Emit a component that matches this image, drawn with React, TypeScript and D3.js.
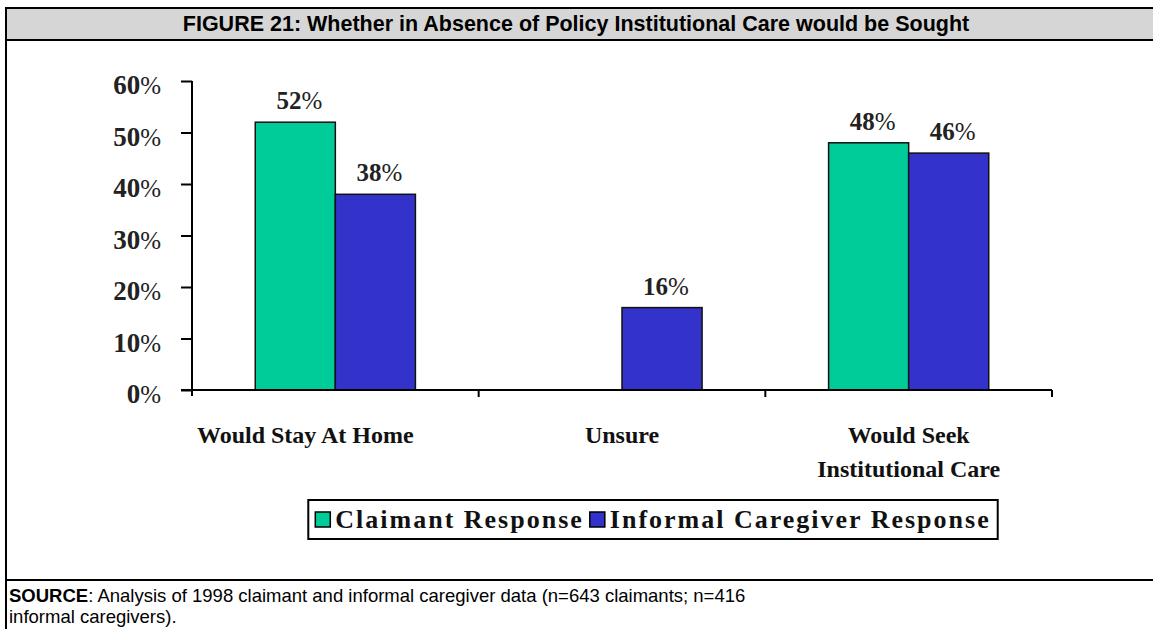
import React, { useEffect, useRef } from "react";
import * as d3 from "d3";

const categories = ["Would Stay At Home", "Unsure", "Would Seek Institutional Care"];
const categoryLines = [["Would Stay At Home"], ["Unsure"], ["Would Seek", "Institutional Care"]];
const seriesNames = ["Claimant Response", "Informal Caregiver Response"];
const claimantValues: (number | null)[] = [52, null, 48];
const caregiverValues: (number | null)[] = [38, 16, 46];
const yTicks = [0, 10, 20, 30, 40, 50, 60];
const seriesColors = ["#00cc99", "#3333cc"];

const titleText = "FIGURE 21: Whether in Absence of Policy Institutional Care would be Sought";
const sourceLine1 = ":  Analysis of 1998 claimant and informal caregiver data (n=643 claimants; n=416";
const sourceLine2 = "informal caregivers).";

const W = 1153;
const H = 629;
const serif = "'Liberation Serif', 'Times New Roman', serif";
const sans = "'Liberation Sans', Arial, sans-serif";

const BarChart = () => {
  const ref = useRef<SVGSVGElement>(null);

  useEffect(() => {
    draw();
  }, []);

  const draw = () => {
    const svg = d3.select(ref.current);
    svg.selectAll("*").remove();

    // frame + title bar
    svg.append("rect").attr("x", 0).attr("y", 0).attr("width", W).attr("height", H).attr("fill", "#fff");
    svg
      .append("rect")
      .attr("x", 6)
      .attr("y", 8)
      .attr("width", W + 10)
      .attr("height", 32)
      .attr("fill", "#d6d6d6")
      .attr("stroke", "#000")
      .attr("stroke-width", 2);
    svg.append("line").attr("x1", 6).attr("x2", 6).attr("y1", 8).attr("y2", H).attr("stroke", "#000").attr("stroke-width", 2);
    svg.append("line").attr("x1", 6).attr("x2", W).attr("y1", 580).attr("y2", 580).attr("stroke", "#000").attr("stroke-width", 2);

    svg
      .append("text")
      .attr("x", 576)
      .attr("y", 31)
      .attr("text-anchor", "middle")
      .attr("font-family", sans)
      .attr("font-weight", "bold")
      .attr("font-size", 21.5)
      .text(titleText);

    // footer
    const src = svg.append("text").attr("x", 9).attr("y", 602).attr("font-family", sans).attr("font-size", 18.5);
    src.append("tspan").attr("font-weight", "bold").text("SOURCE");
    src.append("tspan").text(sourceLine1);
    svg.append("text").attr("x", 9).attr("y", 623).attr("font-family", sans).attr("font-size", 18.5).text(sourceLine2);

    // plot
    const left = 192;
    const right = 1052;
    const top = 81;
    const bottom = 390;

    const x0 = d3.scaleBand().domain(categories).range([left, right]).paddingInner(0).paddingOuter(0);
    const x1 = d3.scaleBand().domain(seriesNames).range([0, x0.bandwidth()]).paddingInner(0).paddingOuter(0.79);
    const y = d3.scaleLinear().domain([0, 60]).range([bottom, top]);

    const g = svg.append("g");

    const series = [claimantValues, caregiverValues];
    series.forEach((vals, si) => {
      const rows = categories.map((c, i) => ({ c, v: vals[i] })).filter((d) => d.v !== null) as { c: string; v: number }[];
      g.selectAll(`rect.s${si}`)
        .data(rows)
        .enter()
        .append("rect")
        .attr("class", `s${si}`)
        .attr("x", (d) => (x0(d.c) as number) + (x1(seriesNames[si]) as number))
        .attr("y", (d) => y(d.v))
        .attr("width", x1.bandwidth())
        .attr("height", (d) => y(0) - y(d.v))
        .attr("fill", seriesColors[si])
        .attr("stroke", "#111")
        .attr("stroke-width", 1.5);

      const lab = g
        .selectAll(`text.l${si}`)
        .data(rows)
        .enter()
        .append("text")
        .attr("class", `l${si}`)
        .attr("x", (d) => (x0(d.c) as number) + (x1(seriesNames[si]) as number) + x1.bandwidth() / 2 + 4)
        .attr("y", (d) => y(d.v) - 13)
        .attr("text-anchor", "middle")
        .attr("font-family", serif)
        .attr("font-size", 25)
        .attr("fill", "#222");
      lab.append("tspan").attr("font-weight", "bold").text((d) => d.v);
      lab.append("tspan").text("%");
    });

    // y axis
    const yAxis = g
      .append("g")
      .attr("transform", `translate(${left},0)`)
      .call(
        d3
          .axisLeft(y)
          .tickValues(yTicks)
          .tickSize(11)
          .tickFormat(() => "")
      );
    yAxis.select(".domain").attr("stroke", "#000").attr("stroke-width", 2).attr("d", `M0,${top}V${bottom + 6}`);
    yAxis.selectAll(".tick line").attr("stroke", "#000").attr("stroke-width", 2);
    yAxis.selectAll(".tick text").remove();
    yTicks.forEach((t) => {
      const tx = g
        .append("text")
        .attr("x", left - 31)
        .attr("y", y(t) + 13)
        .attr("text-anchor", "end")
        .attr("font-family", serif)
        .attr("font-size", 27)
        .attr("fill", "#222");
      tx.append("tspan").attr("font-weight", "bold").text(t);
      tx.append("tspan").attr("font-size", 25).text("%");
    });

    // x axis
    g.append("line")
      .attr("x1", left - 11)
      .attr("x2", right)
      .attr("y1", y(0))
      .attr("y2", y(0))
      .attr("stroke", "#000")
      .attr("stroke-width", 2);
    const bounds = categories.map((c) => (x0(c) as number) + x0.bandwidth());
    g.selectAll("line.xt")
      .data(bounds)
      .enter()
      .append("line")
      .attr("class", "xt")
      .attr("x1", (d) => d)
      .attr("x2", (d) => d)
      .attr("y1", y(0))
      .attr("y2", y(0) + 7)
      .attr("stroke", "#000")
      .attr("stroke-width", 2);

    categories.forEach((c, i) => {
      const t = g
        .append("text")
        .attr("text-anchor", "middle")
        .attr("font-family", serif)
        .attr("font-weight", "bold")
        .attr("font-size", 24)
        .attr("fill", "#111");
      categoryLines[i].forEach((line, li) => {
        t.append("tspan")
          .attr("x", (x0(c) as number) + x0.bandwidth() / 2 - (i === 0 ? 30 : 0))
          .attr("y", 443 + li * 34)
          .text(line);
      });
    });

    // legend
    const leg = svg.append("g");
    const box = leg.append("rect").attr("fill", "#fff").attr("stroke", "#000").attr("stroke-width", 2);
    let cx = 0;
    seriesNames.forEach((s, i) => {
      leg.append("rect")
        .attr("x", cx)
        .attr("y", -16)
        .attr("width", 15)
        .attr("height", 15)
        .attr("fill", seriesColors[i])
        .attr("stroke", "#000")
        .attr("stroke-width", 1.5);
      const t = leg
        .append("text")
        .attr("x", cx + 20)
        .attr("y", 0)
        .attr("font-family", serif)
        .attr("font-weight", "bold")
        .attr("font-size", 26)
        .attr("letter-spacing", 2)
        .attr("fill", "#111")
        .text(s);
      cx += 20 + (t.node() as SVGTextElement).getComputedTextLength() + 6;
    });
    const legW = cx - 6 + 14;
    box.attr("x", -7).attr("y", -28).attr("width", legW).attr("height", 39);
    leg.attr("transform", `translate(${653 - legW / 2 + 7},528)`);
  };

  return <svg ref={ref} width={W} height={H} style={{ display: "block" }} />;
};

export default function App() {
  return (
    <div style={{ position: "absolute", left: 0, top: 0 }}>
      <BarChart />
    </div>
  );
}
